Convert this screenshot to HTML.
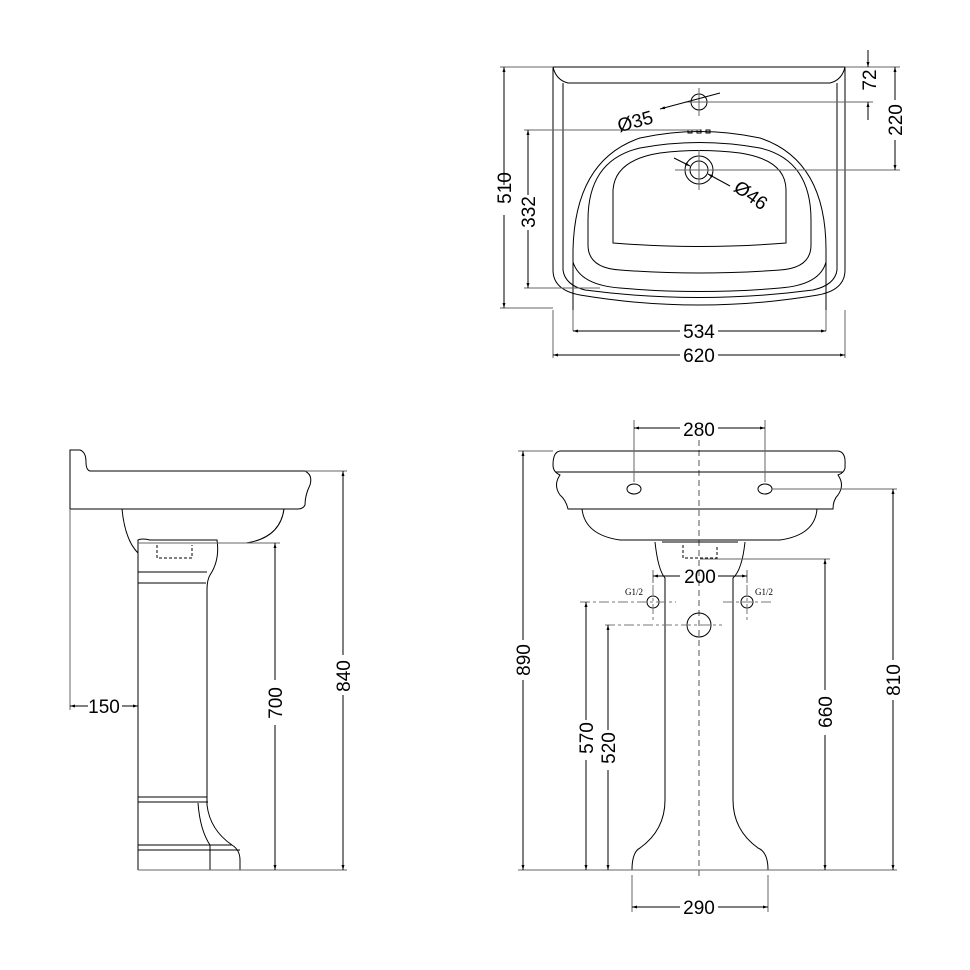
<!DOCTYPE html>
<html><head><style>body{margin:0;background:#fff}svg{display:block}text{font-family:"Liberation Sans",Arial,sans-serif;font-size:19px;fill:#000}</style></head><body>
<svg width="970" height="970" viewBox="0 0 970 970" xmlns="http://www.w3.org/2000/svg">
<defs><marker id="a" viewBox="0 0 10 10" refX="10" refY="5" markerWidth="9" markerHeight="5" orient="auto-start-reverse"><path d="M0,2 L10,5 L0,8z" fill="#000"/></marker></defs>
<g fill="none" stroke="#000" stroke-width="1">
<path d="M553,67 H845"/>
<path d="M553,67 V270 Q553,290 580,295 Q699,315 818,295 Q845,290 845,270 V67"/>
<path d="M553,67 Q556,80 568,83 H830 Q842,80 845,67" />
<path d="M563,83 V270 Q565,285 585,290 Q699,305 813,290 Q835,285 837,270 V83"/>
<path d="M573,330 V250 Q575,160 640,138 Q699,125 760,138 Q826,160 826,250 V330"/>
<path d="M573,262 Q580,285 620,288 Q699,295 780,288 Q820,285 826,262"/>
<path d="M588,220 Q588,160 640,148 Q699,137 760,148 Q811,160 811,220 V245 Q811,268 780,270 Q699,276 620,270 Q588,268 588,245Z"/>
<path d="M613,190 Q615,160 660,153 Q699,148 740,153 Q786,160 786,190 V243 Q699,250 613,243Z"/>
<circle cx="699" cy="102" r="8"/><circle cx="699" cy="170" r="14"/><circle cx="699" cy="170" r="9"/>
<path d="M699,88 V116 M685,102 H873 M699,150 V190 M675,170 H900" stroke="#666"/>
<rect x="688" y="130" width="4" height="3"/><rect x="697" y="130" width="4" height="3"/><rect x="706" y="130" width="4" height="3"/>
<path d="M660,109 L720,93" marker-start="url(#a)"/>
<path d="M674,158 L690,166" marker-end="url(#a)"/><path d="M708,174 L730,186" marker-start="url(#a)"/>
<path d="M500,67 H553 M500,308 H553 M524,130 H700 M524,288 H600 M845,67 H900" stroke="#666"/>
<path d="M504,215 V308" marker-end="url(#a)"/><path d="M504,185 V67" marker-end="url(#a)"/>
<path d="M528,195 V130" marker-end="url(#a)"/><path d="M528,230 V288" marker-end="url(#a)"/>
<path d="M868,50 V67" marker-end="url(#a)"/><path d="M868,120 V102" marker-end="url(#a)"/>
<path d="M895,100 V67" marker-end="url(#a)"/><path d="M895,140 V170" marker-end="url(#a)"/>
<path d="M573,310 V331 M826,310 V331 M553,310 V358 M845,310 V358" stroke="#666"/>
<path d="M680,331 H573" marker-end="url(#a)"/><path d="M718,331 H826" marker-end="url(#a)"/>
<path d="M680,355 H553" marker-end="url(#a)"/><path d="M718,355 H845" marker-end="url(#a)"/>
<path d="M699,440 V880" stroke-dasharray="6,4" stroke="#555"/>
<path d="M560,451 H838 Q846,452 845,465 Q846,472 838,475 Q845,485 838,495 Q833,500 833,509 H568 Q566,500 560,495 Q553,485 560,475 Q553,472 553,465 Q553,452 560,451Z"/>
<path d="M556,472 H843"/>
<path d="M582,509 Q585,535 620,540 H780 Q815,535 817,509"/>
<path d="M655,542 Q658,570 665,578 V800 Q665,830 640,848 Q632,852 632,870 M745,542 Q742,570 733,578 V800 Q733,830 758,848 Q768,852 768,870"/>
<path d="M662,542 H738"/>
<path d="M683,545 V558 H717 V545" stroke-dasharray="3,2"/>
<ellipse cx="634" cy="489" rx="7" ry="5"/><ellipse cx="765" cy="489" rx="7" ry="5"/>
<circle cx="653" cy="602" r="6"/><circle cx="747" cy="602" r="6"/><circle cx="699" cy="625" r="12"/>
<path d="M580,602 H676 M723,602 H772 M653,585 V620 M747,585 V620 M605,625 H722" stroke="#777" stroke-dasharray="10,3,3,3"/>
<path d="M634,420 V482 M765,420 V482 M518,451 H553 M772,489 H897 M700,559 H830 M518,870 H897 M653,570 V583 M747,570 V583 M632,875 V912 M768,875 V912" stroke="#666"/>
<path d="M680,428 H634" marker-end="url(#a)"/><path d="M718,428 H765" marker-end="url(#a)"/>
<path d="M662,576 H653" marker-end="url(#a)"/><path d="M740,576 H747" marker-end="url(#a)"/><path d="M680,576 H662 M718,576 H740"/>
<path d="M680,907 H632" marker-end="url(#a)"/><path d="M718,907 H768" marker-end="url(#a)"/>
<path d="M523,640 V451" marker-end="url(#a)"/><path d="M523,680 V870" marker-end="url(#a)"/>
<path d="M893,660 V489" marker-end="url(#a)"/><path d="M893,700 V870" marker-end="url(#a)"/>
<path d="M825,690 V559" marker-end="url(#a)"/><path d="M825,735 V870" marker-end="url(#a)"/>
<path d="M586,720 V602" marker-end="url(#a)"/><path d="M586,760 V870" marker-end="url(#a)"/>
<path d="M608,730 V625" marker-end="url(#a)"/><path d="M608,770 V870" marker-end="url(#a)"/>
<path d="M70,509 V450 H80 Q86,452 86,462 Q86,470 90,471 H305 Q313,475 310,485 Q305,495 305,505 Q303,509 298,509 H70"/>
<path d="M122,509 Q125,540 138,553 M284,509 Q280,538 246,543 H150"/>
<path d="M138,870 V540 Q142,538 150,540 H217 Q220,560 210,575 Q207,580 207,590 V805 Q210,830 232,845 Q240,850 240,860 V870 H138"/>
<path d="M138,572 H207 M138,583 H206 M138,797 H207 M138,802 H208 M138,845 H232 M138,850 H240 M198,803 Q200,830 210,845 V870"/>
<path d="M157,545 V558 H192 V545" stroke-dasharray="3,2"/>
<path d="M70,509 V710 M138,543 H280 M305,471 H347 M138,870 H347" stroke="#666"/>
<path d="M88,706 H70" marker-end="url(#a)"/><path d="M122,706 H138" marker-end="url(#a)"/>
<path d="M275,680 V543" marker-end="url(#a)"/><path d="M275,725 V870" marker-end="url(#a)"/>
<path d="M343,655 V471" marker-end="url(#a)"/><path d="M343,695 V870" marker-end="url(#a)"/>
</g>
<text x="617" y="127" transform="rotate(-15 638 120)">Ø35</text>
<text x="730" y="202" transform="rotate(35 750 200)">Ø46</text>
<text x="699" y="338" text-anchor="middle">534</text>
<text x="699" y="362" text-anchor="middle">620</text>
<text transform="translate(511,188) rotate(-90)" text-anchor="middle">510</text>
<text transform="translate(535,212) rotate(-90)" text-anchor="middle">332</text>
<text transform="translate(876,80) rotate(-90)" text-anchor="middle">72</text>
<text transform="translate(902,120) rotate(-90)" text-anchor="middle">220</text>
<text x="699" y="436" text-anchor="middle">280</text>
<text x="700" y="583" text-anchor="middle">200</text>
<text x="699" y="914" text-anchor="middle">290</text>
<text x="625" y="595" style="font-family:'Liberation Serif',serif;font-size:9px">G1/2</text>
<text x="755" y="595" style="font-family:'Liberation Serif',serif;font-size:9px">G1/2</text>
<text transform="translate(530,660) rotate(-90)" text-anchor="middle">890</text>
<text transform="translate(900,680) rotate(-90)" text-anchor="middle">810</text>
<text transform="translate(832,712) rotate(-90)" text-anchor="middle">660</text>
<text transform="translate(593,738) rotate(-90)" text-anchor="middle">570</text>
<text transform="translate(615,748) rotate(-90)" text-anchor="middle">520</text>
<text x="104" y="713" text-anchor="middle">150</text>
<text transform="translate(282,703) rotate(-90)" text-anchor="middle">700</text>
<text transform="translate(350,676) rotate(-90)" text-anchor="middle">840</text>
</svg>
</body></html>
